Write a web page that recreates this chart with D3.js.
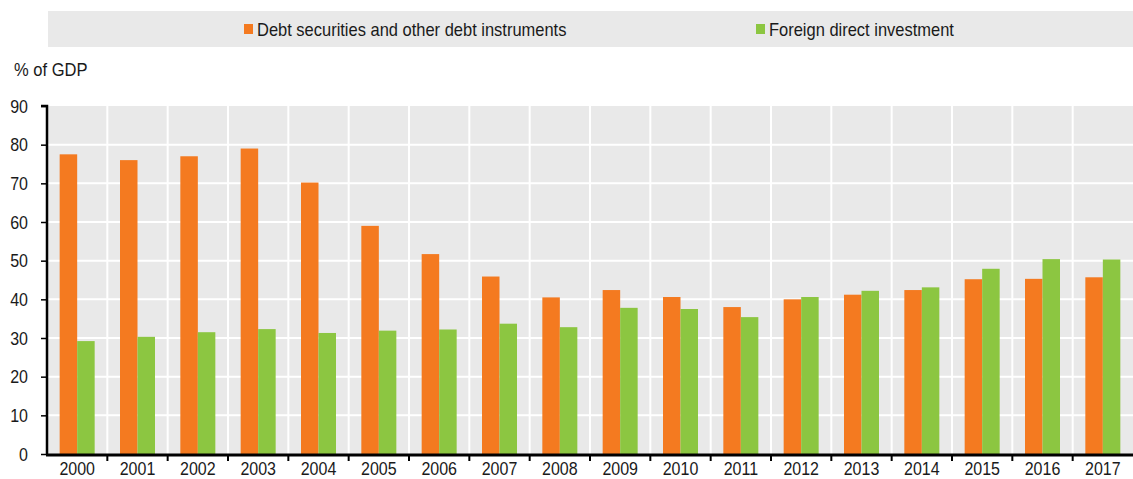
<!DOCTYPE html>
<html>
<head>
<meta charset="utf-8">
<script src="https://cdn.jsdelivr.net/npm/d3@7/dist/d3.min.js"></script>
<style>
  body { margin: 0; background: #fff; }
  svg text { font-family: "Liberation Sans", Arial, sans-serif; fill: #1a1a1a; }
</style>
</head>
<body>
<svg id="chart"></svg>
<script>
// donnees
const years = ["2000","2001","2002","2003","2004","2005","2006","2007","2008","2009","2010","2011","2012","2013","2014","2015","2016","2017"];
const debt = [77.5, 76.0, 77.0, 79.0, 70.2, 59.0, 51.7, 45.9, 40.5, 42.4, 40.6, 38.0, 40.0, 41.2, 42.4, 45.2, 45.3, 45.7];
const fdi = [29.2, 30.3, 31.5, 32.3, 31.3, 31.9, 32.2, 33.7, 32.8, 37.8, 37.5, 35.4, 40.6, 42.2, 43.1, 47.9, 50.4, 50.3];
const yTicks = [0, 10, 20, 30, 40, 50, 60, 70, 80, 90];
const seriesNames = ["Debt securities and other debt instruments", "Foreign direct investment"];
const colors = ["#f47a20", "#8cc641"];

const W = 1133, H = 479;
const margin = { top: 106, right: 0, bottom: 25, left: 47 };
const height = H - margin.top - margin.bottom;

const svg = d3.select("#chart").attr("width", W).attr("height", H);

// texte etroit : on compresse horizontalement autour de x
const narrowText = (parent, xPos, yPos, txt, anchor, sx) => {
    return parent.append("text")
        .attr("transform", `translate(${xPos}, ${yPos}) scale(${sx || 0.89}, 1)`)
        .attr("text-anchor", anchor || "start")
        .attr("font-size", 18)
        .text(txt);
};

// legende
svg.append("rect")
    .attr("x", 48).attr("y", 11)
    .attr("width", W - 48).attr("height", 36)
    .attr("fill", "#e9e9e9");

const legendX = [244, 756];
seriesNames.forEach((nom, i) => {
    svg.append("rect")
        .attr("x", legendX[i]).attr("y", 24)
        .attr("width", 9).attr("height", 10)
        .attr("fill", colors[i]);
    narrowText(svg, legendX[i] + 13, 36, nom, "start", 0.915);
});

narrowText(svg, 14, 76, "% of GDP", "start", 0.92);

// echelles
const x = d3.scaleBand()
    .domain(years)
    .range([margin.left, W - margin.right])
    .padding(0);

const y = d3.scaleLinear()
    .domain([0, 90])
    .range([margin.top + height, margin.top]);

const inner = d3.scaleBand()
    .domain([0, 1])
    .range([0, 35]);

// fond du graphique
svg.append("rect")
    .attr("x", margin.left).attr("y", y(90))
    .attr("width", W - margin.left - margin.right)
    .attr("height", y(0) - y(90))
    .attr("fill", "#e9e9e9");

// grille horizontale
svg.append("g")
    .selectAll("line")
    .data(yTicks.filter(d => d > 0 && d < 90))
    .enter()
    .append("line")
    .attr("x1", margin.left).attr("x2", W)
    .attr("y1", d => y(d)).attr("y2", d => y(d))
    .attr("stroke", "#fff").attr("stroke-width", 2);

// grille verticale
svg.append("g")
    .selectAll("line")
    .data(years.slice(1))
    .enter()
    .append("line")
    .attr("x1", d => x(d)).attr("x2", d => x(d))
    .attr("y1", y(90)).attr("y2", y(0))
    .attr("stroke", "#fff").attr("stroke-width", 2);

// barres
const groupes = svg.append("g")
    .selectAll("g")
    .data(years)
    .enter()
    .append("g")
    .attr("transform", d => `translate(${x(d) + x.bandwidth() / 2 - 17.5}, 0)`);

[debt, fdi].forEach((serie, s) => {
    groupes.append("rect")
        .attr("x", inner(s))
        .attr("width", inner.bandwidth())
        .attr("y", (d, i) => y(serie[i]))
        .attr("height", (d, i) => y(0) - y(serie[i]))
        .attr("fill", colors[s]);
});

// axe y
const yAxis = svg.append("g")
    .attr("transform", `translate(${margin.left}, 0)`)
    .call(d3.axisLeft(y).tickValues(yTicks).tickSize(6));
yAxis.select(".domain").attr("stroke", "#000").attr("stroke-width", 2.5)
    .attr("d", `M-6,${y(90)}H0V${y(0)}`);
yAxis.selectAll(".tick line").attr("stroke", "#000").attr("stroke-width", 1.5);
yAxis.selectAll(".tick text").remove();
yAxis.selectAll(".tick").each(function (d) {
    narrowText(d3.select(this), -19, 6, d, "end");
});

// axe x
const xAxis = svg.append("g")
    .attr("transform", `translate(0, ${y(0) + 1})`)
    .call(d3.axisBottom(x).tickSize(0));
xAxis.select(".domain").attr("stroke", "#000").attr("stroke-width", 3)
    .attr("d", `M${margin.left - 1},0H${W}`);
xAxis.selectAll(".tick text").remove();
xAxis.selectAll(".tick").each(function (d) {
    narrowText(d3.select(this), 0, 20, d, "middle");
});

// petites graduations entre les annees
xAxis.append("g")
    .selectAll("line")
    .data(years.slice(1))
    .enter()
    .append("line")
    .attr("x1", d => x(d)).attr("x2", d => x(d))
    .attr("y1", 0).attr("y2", 6)
    .attr("stroke", "#000").attr("stroke-width", 2);
</script>
</body>
</html>
